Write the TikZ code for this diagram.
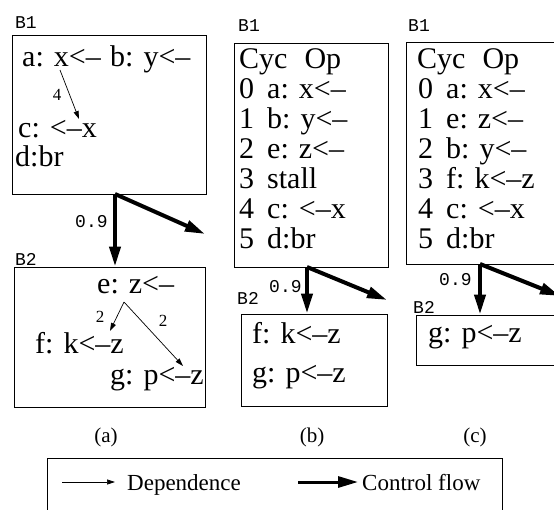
\documentclass[tikz,border=0pt]{standalone}
\usepackage{fontspec}
\setmainfont{Liberation Serif}
\setmonofont{Liberation Mono}
\usetikzlibrary{arrows.meta}
\tikzset{
  blk/.style={draw, line width=1pt, inner sep=0pt},
  optxt/.style={font=\fontsize{30}{30}\selectfont, inner sep=0pt, anchor=base west},
  blbl/.style={font=\ttfamily\fontsize{18}{18}\selectfont, inner sep=0pt, anchor=west},
  elbl/.style={font=\fontsize{17}{17}\selectfont, inner sep=0pt},
  caplbl/.style={font=\fontsize{21}{21}\selectfont, inner sep=0pt},
  lgtxt/.style={font=\fontsize{23}{23}\selectfont, inner sep=0pt, anchor=base west},
  dep/.style={line width=0.7pt, -{Triangle[length=8pt,width=5pt]}},
  ctrl/.style={line width=4pt, -{Triangle[length=20pt,width=11pt]}},
  }

\begin{document}
\begin{tikzpicture}[x=1pt,y=-1pt]
  \useasboundingbox (0,0) rectangle (554,509);
  \clip (0,0) rectangle (554,509);

  % (a) blocks
  \node[blk, minimum width=194pt, minimum height=159pt] (a1) at (109,114.5) {};
  \node[blk, minimum width=191pt, minimum height=140pt] (a2) at (109.5,337) {};
  \node[blbl] (a1lbl) at (15,23) {B1};
  \node[blbl] (a2lbl) at (15,259) {B2};

  \node[optxt] (opa) at (22,66) {a: x<--};
  \node[optxt] (opb) at (110,66) {b: y<--};
  \node[optxt] (opc) at (18,137) {c: <--x};
  \node[optxt] (opd) at (15,166) {d:br};
  \node[optxt] (ope) at (97,293) {e: z<--};
  \node[optxt] (opf) at (35,353) {f: k<--z};
  \node[optxt] (opg) at (110,384) {g: p<--z};

  % dependences in (a)
  \coordinate (ax) at (60,70);
  \coordinate (cx) at (79,119);
  \coordinate (ez) at (124,302);
  \coordinate (fz) at (110,331);
  \coordinate (gz) at (183,366);
  \draw[dep] (ax) -- (cx);
  \draw[dep] (ez) -- (fz);
  \draw[dep] (ez) -- (gz);
  \node[elbl] (l4) at (57,95) {4};
  \node[elbl] (l2f) at (100,317) {2};
  \node[elbl] (l2g) at (163,321) {2};

  % control flow in (a)
  \coordinate (afork) at (115,194);
  \coordinate (aout) at (205,234);
  \draw[ctrl] (afork) -- (afork |- a2.north);
  \draw[ctrl] (afork) -- (aout);
  \node[blbl] (a09) at (75,222) {0.9};
  \node[caplbl] (capa) at (106,437) {(a)};

  % (b) blocks
  \node[blk, minimum width=154pt, minimum height=224pt] (b1) at (311,155) {};
  \node[blk, minimum width=146pt, minimum height=92pt] (b2) at (314,360) {};
  \node[blbl] (b1lbl) at (238,26) {B1};
  \node[blbl] (b2lbl) at (237,298) {B2};

  \node[optxt] (bhd) at (239,68) {Cyc\hspace{17pt}Op};
  \node[optxt] (b0) at (239,98) {\makebox[28pt][l]{0}a: x<--};
  \node[optxt] (b1r) at (239,128) {\makebox[28pt][l]{1}b: y<--};
  \node[optxt] (b2r) at (239,158) {\makebox[28pt][l]{2}e: z<--};
  \node[optxt] (b3) at (239,188) {\makebox[28pt][l]{3}stall};
  \node[optxt] (b4) at (239,218) {\makebox[28pt][l]{4}c: <--x};
  \node[optxt] (b5) at (239,248) {\makebox[28pt][l]{5}d:br};
  \node[optxt] (bf) at (252,343) {f: k<--z};
  \node[optxt] (bg) at (252,382) {g: p<--z};

  % control flow in (b)
  \coordinate (bfork) at (307,267);
  \coordinate (bout) at (387,300);
  \draw[ctrl] (bfork) -- (bfork |- b2.north);
  \draw[ctrl] (bfork) -- (bout);
  \node[blbl] (b09) at (269,287) {0.9};
  \node[caplbl] (capb) at (312,437) {(b)};

  % (c) blocks
  \node[blk, minimum width=194pt, minimum height=222pt] (c1) at (503,153) {};
  \node[blk, minimum width=184pt, minimum height=50pt] (c2) at (508,340) {};
  \node[blbl] (c1lbl) at (408,26) {B1};
  \node[blbl] (c2lbl) at (413,307) {B2};

  \node[optxt] (chd) at (417,68) {Cyc\hspace{17pt}Op};
  \node[optxt] (c0) at (418,98) {\makebox[28pt][l]{0}a: x<--};
  \node[optxt] (c1r) at (418,128) {\makebox[28pt][l]{1}e: z<--};
  \node[optxt] (c2r) at (418,158) {\makebox[28pt][l]{2}b: y<--};
  \node[optxt] (c3) at (418,188) {\makebox[28pt][l]{3}f: k<--z};
  \node[optxt] (c4) at (418,218) {\makebox[28pt][l]{4}c: <--x};
  \node[optxt] (c5) at (418,248) {\makebox[28pt][l]{5}d:br};
  \node[optxt] (cg) at (428,342) {g: p<--z};

  % control flow in (c)
  \coordinate (cfork) at (480,264);
  \coordinate (cout) at (560,296);
  \draw[ctrl] (cfork) -- (cfork |- c2.north);
  \draw[ctrl] (cfork) -- (cout);
  \node[blbl] (c09) at (439,280) {0.9};
  \node[caplbl] (capc) at (475,437) {(c)};

  % legend
  \node[blk, minimum width=455pt, minimum height=62pt] (lg) at (274.5,489) {};
  \node[lgtxt] (lgdep) at (127,490) {Dependence};
  \node[lgtxt] (lgctrl) at (362,490) {Control flow};
  \coordinate (lgd) at (62,482);
  \coordinate (lgc) at (298,482);
  \draw[dep] (lgd) -- (115,482);
  \draw[ctrl, line width=3pt] (lgc) -- (358,482);
\end{tikzpicture}
\end{document}
